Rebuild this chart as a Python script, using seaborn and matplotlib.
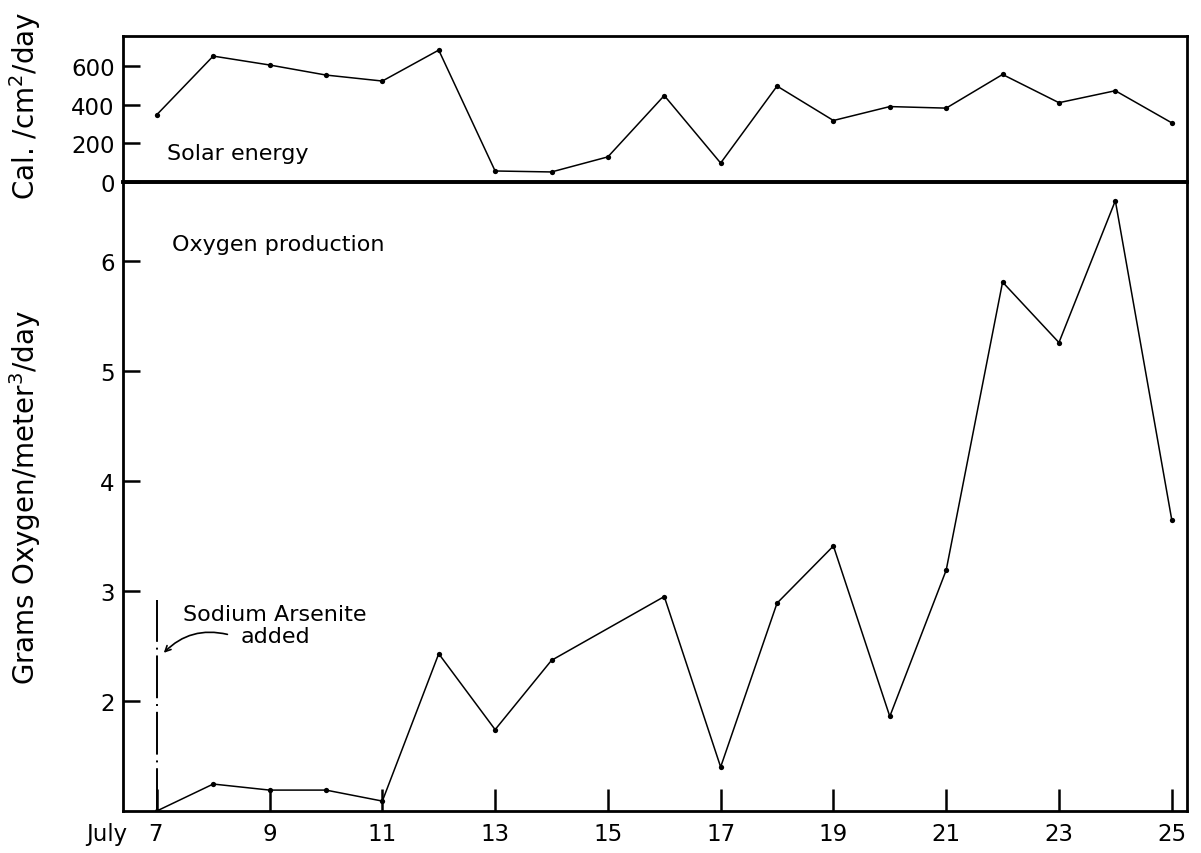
import matplotlib
matplotlib.use("Agg")
import matplotlib.pyplot as plt
import seaborn as sns
import pandas as pd
from matplotlib.transforms import ScaledTranslation

sns.set_style("ticks")
plt.rcParams['font.family'] = ['DejaVu Sans']
for k in ("text.color", "axes.labelcolor", "xtick.color", "ytick.color", "axes.edgecolor"):
    plt.rcParams[k] = "black"

# Data (July days)
solar_days = [7, 8, 9, 10, 11, 12, 13, 14, 15, 16, 17, 18, 19, 20, 21, 22, 23, 24, 25]
solar_values = [348, 651, 605, 553, 522, 682, 57, 52, 130, 447, 98, 496, 318, 390, 382, 556, 410, 472, 306]

oxygen_days = [7, 8, 9, 10, 11, 12, 13, 14, 16, 17, 18, 19, 20, 21, 22, 23, 24, 25]
oxygen_values = [1.0, 1.245, 1.19, 1.19, 1.09, 2.43, 1.74, 2.37, 2.95, 1.40, 2.89, 3.41, 1.86, 3.19, 5.81, 5.26, 6.55, 3.65]

x_ticks = [7, 9, 11, 13, 15, 17, 19, 21, 23, 25]
x_tick_labels = ["July   7", "9", "11", "13", "15", "17", "19", "21", "23", "25"]
solar_ticks = [0, 200, 400, 600]
oxygen_ticks = [2, 3, 4, 5, 6]

solar_df = pd.DataFrame({"day": solar_days, "value": solar_values})
oxy_df = pd.DataFrame({"day": oxygen_days, "value": oxygen_values})

fig = plt.figure(figsize=(12.01, 8.54), dpi=100)
ax_bot = fig.add_axes([0.1024, 0.0492, 0.8859, 0.7365])
ax_top = fig.add_axes([0.1024, 0.7857, 0.8859, 0.1710], sharex=ax_bot)
ax_top.patch.set_alpha(0)

line_kw = dict(color="black", linewidth=1.1, marker="o", markersize=3.8,
               markeredgewidth=0, estimator=None, legend=False)
sns.lineplot(data=solar_df, x="day", y="value", ax=ax_top, **line_kw)
sns.lineplot(data=oxy_df, x="day", y="value", ax=ax_bot, **line_kw)

ax_top.set_xlim(6.4, 25.27)
ax_top.set_ylim(0, 755)
ax_bot.set_ylim(1.0, 6.72)

for ax in (ax_top, ax_bot):
    for s in ax.spines.values():
        s.set_linewidth(2.0)
        s.set_color("black")
    ax.set_xlabel("")
    ax.set_ylabel("")
ax_top.spines["bottom"].set_linewidth(2.6)
ax_bot.spines["top"].set_linewidth(2.6)

ax_top.set_yticks(solar_ticks)
ax_top.set_yticklabels([str(t) for t in solar_ticks])
ax_top.tick_params(axis="y", direction="in", length=12, width=1.8, labelsize=16.5, pad=6)
ax_top.tick_params(axis="x", bottom=False, labelbottom=False)

ax_bot.set_yticks(oxygen_ticks)
ax_bot.set_yticklabels([str(t) for t in oxygen_ticks])
ax_bot.tick_params(axis="y", direction="in", length=12, width=1.8, labelsize=16.5, pad=6)
ax_bot.set_xticks(x_ticks)
ax_bot.set_xticklabels(x_tick_labels)
ax_bot.tick_params(axis="x", direction="in", length=16, width=1.8, labelsize=16.5, pad=8)
lbls = ax_bot.get_xticklabels()
lbls[0].set_horizontalalignment("right")
lbls[0].set_transform(lbls[0].get_transform() + ScaledTranslation(0.07, 0, fig.dpi_scale_trans))

ax_top.set_ylabel("Cal. /cm$^2$/day", fontsize=20)
ax_bot.set_ylabel("Grams Oxygen/meter$^3$/day", fontsize=20)
ax_top.yaxis.set_label_coords(-0.075, 0.53)
ax_bot.yaxis.set_label_coords(-0.075, 0.5)

ax_top.text(7.18, 152, "Solar energy", fontsize=16, va="center", ha="left")
ax_bot.text(7.27, 6.16, "Oxygen production", fontsize=16, va="center", ha="left")

# Sodium arsenite marker
ax_bot.plot([7, 7], [1.0, 2.92], color="black", linewidth=1.4,
            dashes=(22, 3, 1, 3))
ax_bot.text(9.1, 2.79, "Sodium Arsenite", fontsize=16, ha="center", va="center")
ax_bot.text(9.1, 2.59, "added", fontsize=16, ha="center", va="center")
ax_bot.annotate("", xy=(7.09, 2.42), xytext=(8.3, 2.6),
                arrowprops=dict(arrowstyle="->", color="black", lw=1.2,
                                connectionstyle="arc3,rad=0.3"))

fig.savefig("out.png", dpi=100)
